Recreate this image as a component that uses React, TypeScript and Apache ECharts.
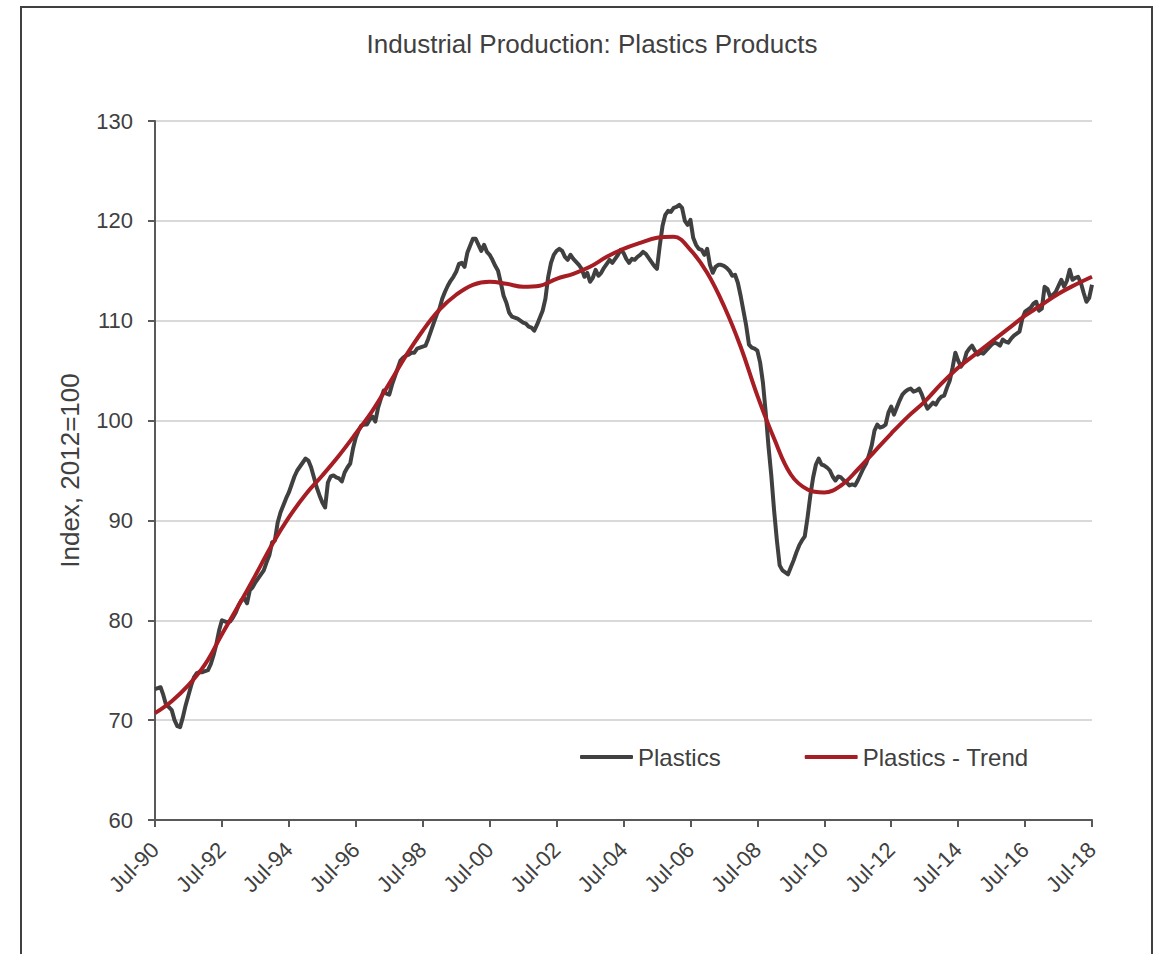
import React, { useEffect, useRef } from "react";
import * as echarts from "echarts";

// x tick labels (every 24 months, starting Jul-90)
const tickLabels = [
  "Jul-90", "Jul-92", "Jul-94", "Jul-96", "Jul-98", "Jul-00", "Jul-02", "Jul-04",
  "Jul-06", "Jul-08", "Jul-10", "Jul-12", "Jul-14", "Jul-16", "Jul-18",
];

// Monthly index values, Jul-1990 .. Jul-2018 (each row: Jul..Jun)
const plastics = [
  73.1, 73.2, 73.3, 72.5, 71.5, 71.3, 71.0, 70.0, 69.4, 69.3, 70.3, 71.5,
  72.5, 73.5, 74.3, 74.7, 74.8, 74.8, 74.9, 75.0, 75.6, 76.5, 77.6, 79.0,
  80.0, 79.9, 79.8, 79.9, 80.3, 80.8, 81.5, 82.0, 82.2, 81.7, 83.0, 83.3,
  83.8, 84.2, 84.6, 85.0, 85.8, 86.5, 87.8, 88.0, 89.8, 90.8, 91.5, 92.2,
  92.8, 93.6, 94.4, 95.0, 95.4, 95.8, 96.2, 96.0, 95.3, 94.3, 93.3, 92.5,
  91.8, 91.3, 93.8, 94.4, 94.5, 94.3, 94.2, 93.9, 94.8, 95.3, 95.7, 97.2,
  98.3, 99.0, 99.5, 99.6, 99.6, 100.1, 100.4, 99.9, 101.3, 102.2, 103.0, 102.7,
  102.6, 103.6, 104.4, 105.2, 106.0, 106.3, 106.5, 106.6, 106.8, 106.8, 107.2, 107.3,
  107.4, 107.5, 108.2, 109.0, 109.8, 110.6, 111.2, 112.2, 112.9, 113.5, 114.0, 114.4,
  114.9, 115.7, 115.8, 115.4, 116.8, 117.5, 118.2, 118.2, 117.6, 117.0, 117.6, 116.9,
  116.6, 116.1, 115.5, 115.0, 113.8, 112.5, 111.8, 110.8, 110.4, 110.3, 110.2, 110.0,
  109.8, 109.7, 109.4, 109.3, 109.0, 109.6, 110.3, 111.0, 112.2, 114.4, 115.8, 116.6,
  117.0, 117.2, 117.0, 116.4, 116.1, 116.6, 116.2, 115.9, 115.6, 115.2, 114.4, 114.8,
  113.9, 114.3, 115.1, 114.5, 114.8, 115.3, 115.7, 116.1, 115.8, 116.2, 116.6, 117.1,
  116.8, 116.2, 115.8, 116.2, 116.1, 116.4, 116.6, 116.9, 116.7, 116.3, 115.9, 115.5,
  115.2, 117.5, 119.5, 120.6, 121.0, 120.9, 121.3, 121.4, 121.6, 121.3, 120.0, 119.6,
  120.1, 118.3, 117.6, 117.2, 117.1, 116.6, 117.2, 115.6, 114.8, 115.4, 115.6, 115.6,
  115.5, 115.3, 115.0, 114.5, 114.6, 113.8, 112.5, 111.0, 109.5, 107.6, 107.3, 107.2,
  107.0, 105.8, 103.8, 100.8, 97.4, 94.5, 91.0, 88.0, 85.5, 85.0, 84.8, 84.6,
  85.3, 86.0, 86.8, 87.5, 88.0, 88.4, 90.3, 92.5, 94.3, 95.6, 96.2, 95.6,
  95.5, 95.3, 95.0, 94.4, 94.0, 94.4, 94.3, 94.0, 93.8, 93.5, 93.6, 93.5,
  94.0, 94.6, 95.2, 95.7, 96.5, 97.5, 99.0, 99.6, 99.3, 99.4, 99.6, 100.8,
  101.4, 100.6, 101.3, 102.0, 102.6, 102.9, 103.1, 103.2, 102.9, 103.0, 103.2, 102.6,
  101.8, 101.2, 101.5, 101.8, 101.6, 102.1, 102.4, 102.5, 103.3, 104.0, 105.3, 106.8,
  106.0, 105.4, 105.8, 106.8, 107.2, 107.5, 107.0, 106.6, 106.8, 106.7, 107.0, 107.3,
  107.6, 107.8, 107.7, 107.5, 108.1, 107.9, 107.8, 108.2, 108.5, 108.7, 108.9, 110.2,
  110.9, 111.1, 111.3, 111.7, 111.9, 111.0, 111.2, 113.4, 113.2, 112.4, 112.6, 112.9,
  113.5, 114.1, 113.4, 114.0, 115.1, 114.1, 114.3, 114.4, 113.8, 112.8, 111.9, 112.3,
  113.6,
];

// Trend, sampled every 6 months (Jul-90, Jan-91, ..., Jul-18)
const trend = [
  70.7, 71.9, 73.5, 75.6, 78.6, 81.5, 84.5, 87.6, 90.3, 92.6,
  94.5, 96.5, 98.7, 101.0, 103.7, 106.5, 109.0, 111.1, 112.6, 113.6,
  113.9, 113.7, 113.4, 113.5, 114.2, 114.7, 115.4, 116.4, 117.2, 117.8,
  118.3, 118.4, 117.1, 114.8, 111.5, 107.4, 102.5, 98.2, 94.6, 93.1,
  92.8, 93.5, 95.1, 96.9, 98.7, 100.4, 101.9, 103.7, 105.3, 106.6,
  107.9, 109.2, 110.5, 111.6, 112.7, 113.6, 114.4,
];

const FONT = '"Liberation Sans", Arial, Helvetica, sans-serif';
const TEXT = "#404040";

export default function App() {
  const ref = useRef<HTMLDivElement>(null);

  useEffect(() => {
    if (!ref.current) return;
    const chart = echarts.init(ref.current, null, { renderer: "svg" });
    chart.setOption({
      animation: false,
      backgroundColor: "#ffffff",
      textStyle: { fontFamily: FONT, color: TEXT },
      title: {
        text: "Industrial Production: Plastics Products",
        left: 587,
        top: 26,
        textAlign: "center",
        textStyle: { fontFamily: FONT, fontSize: 26, fontWeight: "normal", color: TEXT },
      },
      graphic: [
        {
          type: "rect",
          shape: { x: 21, y: 7, width: 1131, height: 1000 },
          style: { fill: "none", stroke: "#404040", lineWidth: 2 },
          silent: true,
        },
      ],
      legend: {
        left: 575,
        top: 740,
        itemGap: 84,
        itemWidth: 53,
        itemHeight: 4,
        icon: "roundRect",
        textStyle: { fontFamily: FONT, fontSize: 24, color: TEXT },
        data: ["Plastics", "Plastics - Trend"],
      },
      grid: { left: 155, top: 121, right: 68, bottom: 134, containLabel: false },
      xAxis: {
        type: "value",
        min: 0,
        max: 336,
        interval: 24,
        axisLine: { show: true, lineStyle: { color: "#595959", width: 2 } },
        axisTick: { show: true, length: 7, lineStyle: { color: "#595959", width: 2 } },
        splitLine: { show: false },
        axisLabel: {
          rotate: 45,
          margin: 26,
          fontFamily: FONT,
          fontSize: 22,
          color: TEXT,
          formatter: (v: number) => tickLabels[Math.round(v / 24)] ?? "",
        },
      },
      yAxis: {
        type: "value",
        min: 60,
        max: 130,
        interval: 10,
        name: "Index, 2012=100",
        nameLocation: "middle",
        nameGap: 72,
        nameTextStyle: { fontFamily: FONT, fontSize: 26, color: TEXT },
        axisLine: { show: true, lineStyle: { color: "#595959", width: 2 } },
        axisTick: { show: true, length: 7, lineStyle: { color: "#595959", width: 2 } },
        splitLine: { show: true, lineStyle: { color: "#d9d9d9", width: 2 } },
        axisLabel: { margin: 22, fontFamily: FONT, fontSize: 22, color: TEXT },
      },
      series: [
        {
          name: "Plastics",
          type: "line",
          data: plastics.map((v, i) => [i, v]),
          showSymbol: false,
          symbol: "none",
          lineStyle: { width: 4, color: "#404040", join: "round" },
          itemStyle: { color: "#404040" },
          z: 2,
        },
        {
          name: "Plastics - Trend",
          type: "line",
          data: trend.map((v, k) => [k * 6, v]),
          smooth: 0.4,
          showSymbol: false,
          symbol: "none",
          lineStyle: { width: 4, color: "#a61d24" },
          itemStyle: { color: "#a61d24" },
          z: 3,
        },
      ],
    });
    return () => chart.dispose();
  }, []);

  return (
    <div style={{ position: "fixed", left: 0, top: 0, width: 1160, height: 954, background: "#fff" }}>
      <div ref={ref} style={{ width: 1160, height: 954 }} />
    </div>
  );
}
